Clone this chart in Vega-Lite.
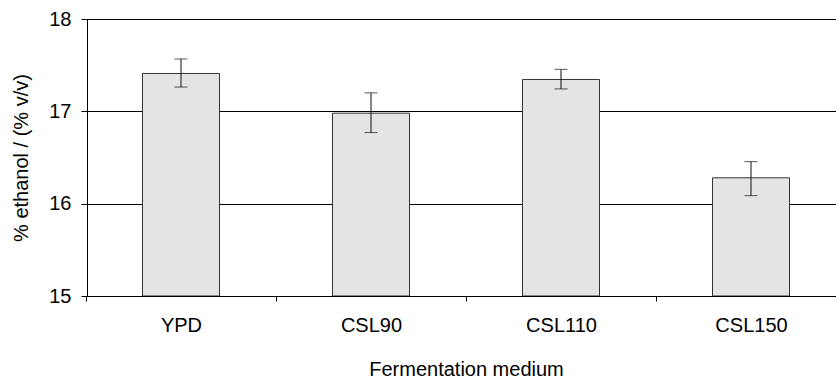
{
  "$schema": "https://vega.github.io/schema/vega-lite/v6.json",
  "width": 749,
  "height": 277,
  "autosize": {"type": "none"},
  "padding": {"left": 87, "top": 19, "right": 0, "bottom": 82},
  "background": "white",
  "config": {
    "view": {"stroke": null},
    "font": "Liberation Sans",
    "axis": {"labelFont": "Liberation Sans", "titleFont": "Liberation Sans", "labelColor": "#000", "titleColor": "#000", "titleFontWeight": "normal"}
  },
  "data": {
    "values": [
      {"medium": "YPD", "mean": 17.41, "lo": 17.263, "hi": 17.567},
      {"medium": "CSL90", "mean": 16.98, "lo": 16.77, "hi": 17.2},
      {"medium": "CSL110", "mean": 17.345, "lo": 17.243, "hi": 17.455},
      {"medium": "CSL150", "mean": 16.28, "lo": 16.087, "hi": 16.455}
    ]
  },
  "encoding": {
    "x": {
      "field": "medium",
      "type": "nominal",
      "sort": null,
      "scale": {"range": [-1, 759], "paddingInner": 0, "paddingOuter": 0},
      "axis": {
        "title": "Fermentation medium",
        "labelAngle": 0,
        "labelFontSize": 20,
        "titleFontSize": 20,
        "labelPadding": 14,
        "titlePadding": 24,
        "ticks": true,
        "tickBand": "extent",
        "tickSize": 5,
        "tickColor": "#000",
        "domain": true,
        "domainColor": "#000",
        "grid": false,
        "zindex": 1
      }
    }
  },
  "layer": [
    {
      "mark": {"type": "bar", "width": 77, "fill": "#e4e4e4", "stroke": "#333", "strokeWidth": 1},
      "encoding": {
        "y": {
          "field": "mean",
          "type": "quantitative",
          "scale": {"domain": [15, 18], "nice": false, "zero": false},
          "axis": {
            "title": "% ethanol / (% v/v)",
            "values": [15, 16, 17, 18],
            "format": "d",
            "labelFontSize": 20,
            "titleFontSize": 20,
            "labelPadding": 10,
            "titlePadding": 17,
            "tickSize": 6,
            "tickColor": "#000",
            "domainColor": "#000",
            "grid": true,
            "gridColor": "#000",
            "gridOpacity": 1,
            "gridWidth": 1
          }
        },
        "y2": {"datum": 15}
      }
    },
    {
      "mark": {"type": "rule", "color": "#111", "strokeWidth": 1},
      "encoding": {
        "y": {"field": "lo", "type": "quantitative"},
        "y2": {"field": "hi"}
      }
    },
    {
      "mark": {"type": "tick", "color": "#111", "size": 13, "thickness": 1},
      "encoding": {"y": {"field": "lo", "type": "quantitative"}}
    },
    {
      "mark": {"type": "tick", "color": "#111", "size": 13, "thickness": 1},
      "encoding": {"y": {"field": "hi", "type": "quantitative"}}
    }
  ]
}
